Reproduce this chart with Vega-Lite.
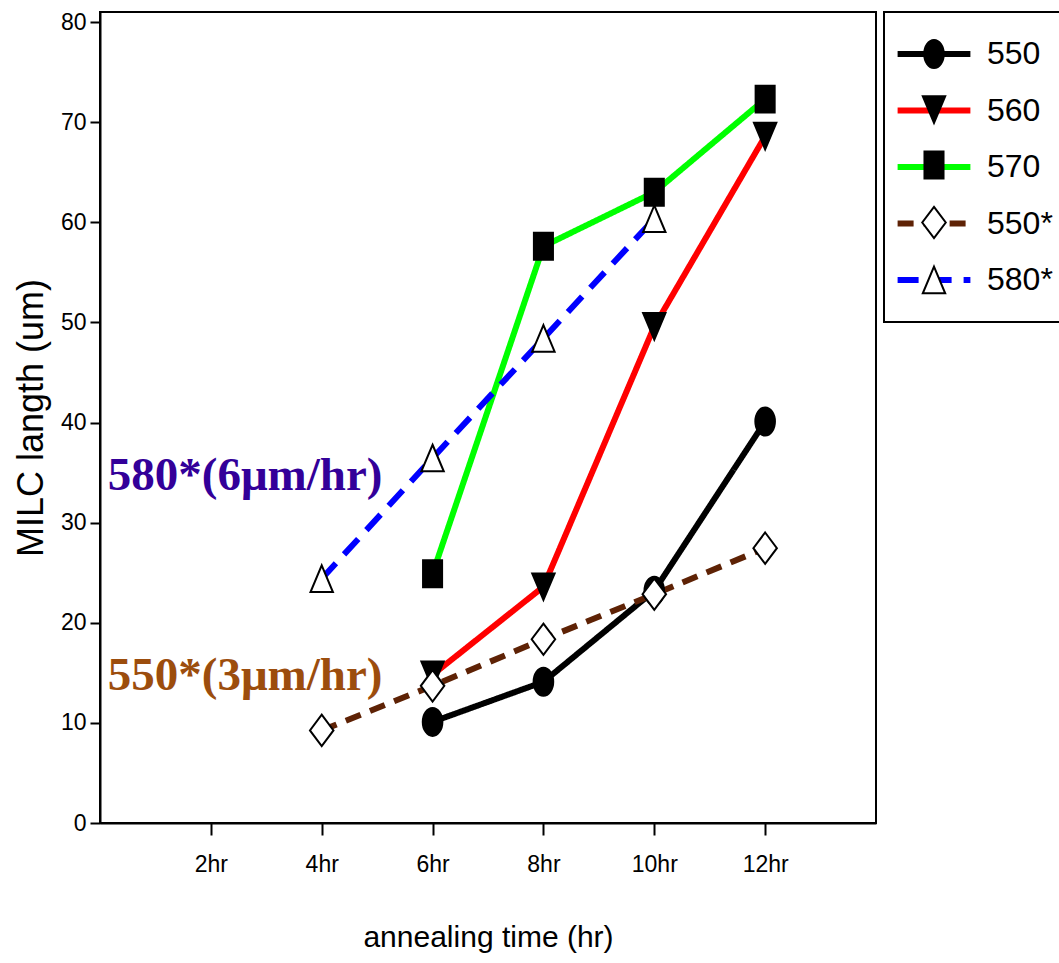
{
  "$schema": "https://vega.github.io/schema/vega-lite/v6.json",
  "width": 776,
  "height": 811,
  "autosize": {"type": "none"},
  "padding": {"left": 100, "top": 12, "right": 183, "bottom": 140},
  "background": "white",
  "config": {
    "view": {"stroke": "black", "strokeWidth": 2},
    "font": "Liberation Sans",
    "legend": {"strokeWidth": 2},
    "axis": {"grid": false, "domainColor": "black", "domainWidth": 2, "tickColor": "black", "tickWidth": 2, "labelColor": "black", "titleColor": "black", "labelFont": "Liberation Sans", "titleFont": "Liberation Sans", "titleFontWeight": "normal"}
  },
  "datasets": {
    "series": [
      {"t": 6, "len": 10.1, "series": "550", "rank": 1},
      {"t": 8, "len": 14.1, "series": "550", "rank": 1},
      {"t": 10, "len": 23.2, "series": "550", "rank": 1},
      {"t": 12, "len": 40.1, "series": "550", "rank": 1},
      {"t": 6, "len": 14.8, "series": "560", "rank": 2},
      {"t": 8, "len": 23.6, "series": "560", "rank": 2},
      {"t": 10, "len": 49.6, "series": "560", "rank": 2},
      {"t": 12, "len": 68.6, "series": "560", "rank": 2},
      {"t": 6, "len": 24.9, "series": "570", "rank": 3},
      {"t": 8, "len": 57.6, "series": "570", "rank": 3},
      {"t": 10, "len": 63.0, "series": "570", "rank": 3},
      {"t": 12, "len": 72.3, "series": "570", "rank": 3},
      {"t": 4, "len": 9.25, "series": "550*", "rank": 4},
      {"t": 6, "len": 13.7, "series": "550*", "rank": 4},
      {"t": 8, "len": 18.35, "series": "550*", "rank": 4},
      {"t": 10, "len": 22.85, "series": "550*", "rank": 4},
      {"t": 12, "len": 27.45, "series": "550*", "rank": 4},
      {"t": 4, "len": 24.4, "series": "580*", "rank": 5},
      {"t": 6, "len": 36.45, "series": "580*", "rank": 5},
      {"t": 8, "len": 48.4, "series": "580*", "rank": 5},
      {"t": 10, "len": 60.35, "series": "580*", "rank": 5}
    ]
  },
  "layer": [
    {
      "data": {"name": "series"},
      "mark": {"type": "line", "strokeWidth": 6, "strokeCap": "butt", "strokeJoin": "miter"},
      "encoding": {
        "x": {
          "field": "t", "type": "quantitative",
          "scale": {"domain": [0, 14], "nice": false, "zero": false},
          "axis": {"values": [2, 4, 6, 8, 10, 12], "labelExpr": "datum.value + 'hr'", "labelFontSize": 23, "tickSize": 12, "labelPadding": 18, "title": "annealing time (hr)", "titleFontSize": 30, "titlePadding": 46}
        },
        "y": {
          "field": "len", "type": "quantitative",
          "scale": {"domain": [0, 81], "nice": false},
          "axis": {"values": [0, 10, 20, 30, 40, 50, 60, 70, 80], "labelFontSize": 23, "tickSize": 10, "labelPadding": 4, "title": "MILC langth (um)", "titleFontSize": 36, "titlePadding": 10}
        },
        "color": {
          "field": "series", "type": "nominal",
          "scale": {"domain": ["550", "560", "570", "550*", "580*"], "range": ["#000000", "#ff0000", "#00ff00", "#5e2205", "#0000ff"]},
          "legend": {"orient": "none", "legendX": 784, "legendY": 0, "title": null, "padding": 26, "symbolOffset": 8, "rowPadding": 24.5, "symbolType": "M-2.8,0H2.8", "symbolSize": 676, "symbolStrokeWidth": 6, "labelFont": "Liberation Sans", "labelFontSize": 32, "labelColor": "black", "labelOffset": 37, "strokeColor": "black"}
        },
        "strokeDash": {
          "field": "series", "type": "nominal",
          "scale": {"domain": ["550", "560", "570", "550*", "580*"], "range": [[1, 0], [1, 0], [1, 0], [16, 10], [21, 12]]},
          "legend": {"orient": "none", "legendX": 784, "legendY": 0, "title": null}
        }
      }
    },
    {
      "data": {"name": "series"},
      "mark": {"type": "point", "stroke": "black", "strokeWidth": 2, "opacity": 1, "size": 784},
      "encoding": {
        "x": {"field": "t", "type": "quantitative"},
        "y": {"field": "len", "type": "quantitative"},
        "fill": {
          "field": "rank", "type": "ordinal",
          "scale": {"range": ["#000000", "#000000", "#000000", "#ffffff", "#ffffff"]},
          "legend": {"orient": "none", "legendX": 784, "legendY": 0, "title": null, "padding": 26, "symbolOffset": 8, "rowPadding": 19.5, "symbolSize": 784, "symbolStrokeWidth": 2, "symbolStrokeColor": "black", "symbolOpacity": 1, "labelFont": "Liberation Sans", "labelFontSize": 32, "labelOpacity": 0, "labelOffset": 37, "labelExpr": "''"}
        },
        "shape": {
          "field": "rank", "type": "ordinal",
          "scale": {"range": [
            "M-0.7,0A0.7,1,0,1,1,0.7,0A0.7,1,0,1,1,-0.7,0Z",
            "M-0.8,-0.95L0.8,-0.95L0,0.95Z",
            "M-0.68,-0.96L0.68,-0.96L0.68,0.96L-0.68,0.96Z",
            "M0,-1.12L0.84,0L0,1.12L-0.84,0Z",
            "M0,-0.95L0.8,0.95L-0.8,0.95Z"
          ]},
          "legend": {"orient": "none", "legendX": 784, "legendY": 0, "title": null}
        }
      }
    },
    {
      "data": {"values": [{"t": 0.14, "len": 33.3, "label": "580*(6μm/hr)"}]},
      "mark": {"type": "text", "font": "Liberation Serif", "fontWeight": "bold", "fontSize": 47, "align": "left", "baseline": "alphabetic", "color": "#330099"},
      "encoding": {
        "x": {"field": "t", "type": "quantitative"},
        "y": {"field": "len", "type": "quantitative"},
        "text": {"field": "label"}
      }
    },
    {
      "data": {"values": [{"t": 0.14, "len": 13.3, "label": "550*(3μm/hr)"}]},
      "mark": {"type": "text", "font": "Liberation Serif", "fontWeight": "bold", "fontSize": 47, "align": "left", "baseline": "alphabetic", "color": "#9c4d0d"},
      "encoding": {
        "x": {"field": "t", "type": "quantitative"},
        "y": {"field": "len", "type": "quantitative"},
        "text": {"field": "label"}
      }
    }
  ]
}
